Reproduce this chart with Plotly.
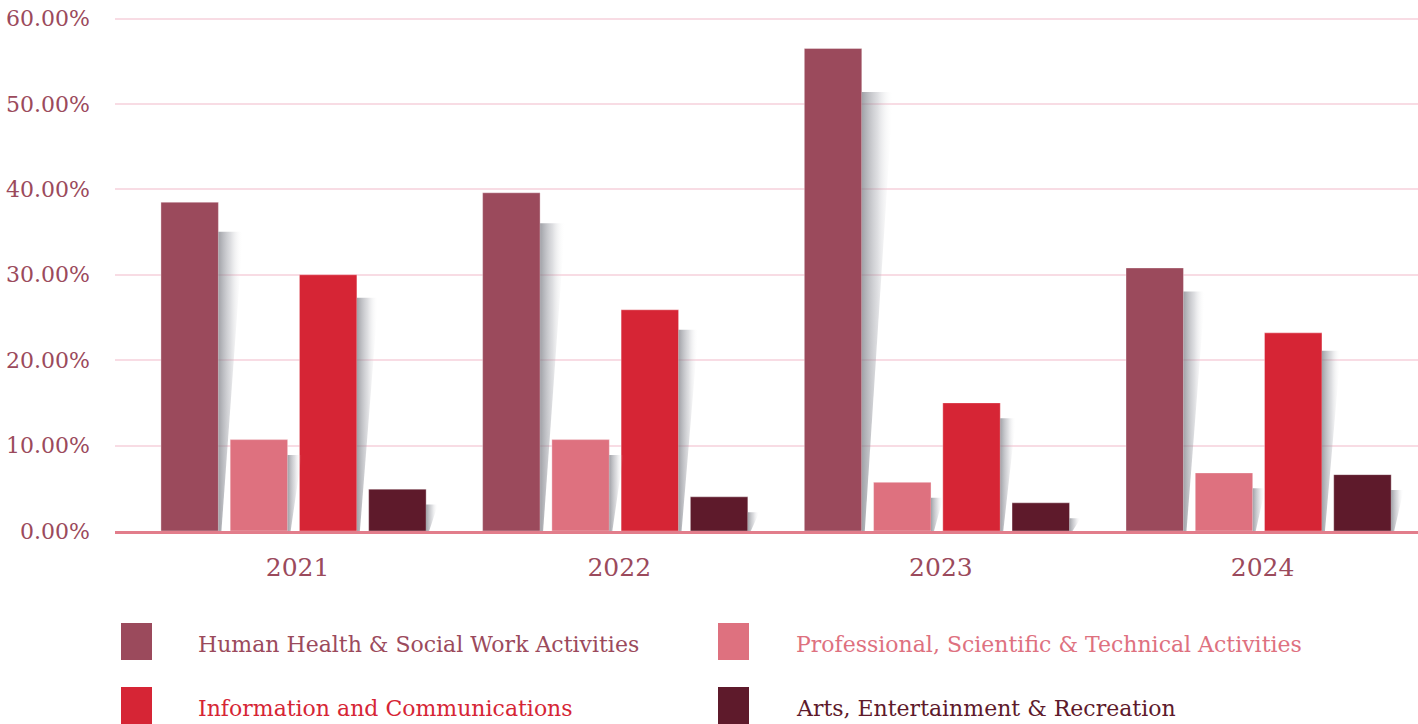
import plotly.graph_objects as go

# ---------------- data ----------------
years = ["2021", "2022", "2023", "2024"]
series_names = [
    "Human Health & Social Work Activities",
    "Professional, Scientific & Technical Activities",
    "Information and Communications",
    "Arts, Entertainment & Recreation",
]
human_health = [38.5, 39.6, 56.5, 30.8]
professional = [10.7, 10.7, 5.7, 6.8]
info_comm = [30.0, 25.9, 15.0, 23.2]
arts = [4.9, 4.0, 3.3, 6.6]
y_ticks = [0, 10, 20, 30, 40, 50, 60]
y_tick_labels = [f"{v:.2f}%" for v in y_ticks]

series_values = [human_health, professional, info_comm, arts]
colors = ["#9B4A5C", "#DE717F", "#D62535", "#5E1A2B"]
text_color = "#9B4A5C"
FONT = "DejaVu Serif"

# ---------------- geometry ----------------
W, H = 1418, 724
ML, MR, MT, MB = 115, 0, 16, 193
x_range = [-0.555, 3.4955]
y_range = [0, 60.3]
bargap = 0.139
bargroupgap = 0.17
plot_w = W - ML - MR
plot_h = H - MT - MB
unit_px = plot_w / (x_range[1] - x_range[0])

slot = (1 - bargap) / len(series_values)
barw = slot * (1 - bargroupgap)

fig = go.Figure()

# soft drop shadows to the right of each bar
for i, vals in enumerate(series_values):
    for j, v in enumerate(vals):
        x_left = j - (1 - bargap) / 2 + slot * i + slot * bargroupgap / 2
        xr = x_left + barw
        top = v - max(1.8, 0.09 * v)
        sw = (10 + 0.38 * v) / unit_px
        fig.add_trace(go.Scatter(
            x=[xr, xr + sw, xr + 3 / unit_px, xr, xr],
            y=[top, top, 0, 0, top],
            mode="lines", line=dict(width=0), fill="toself",
            fillgradient=dict(type="horizontal",
                              colorscale=[[0, "rgba(120,122,130,0.70)"],
                                          [0.5, "rgba(160,162,170,0.35)"],
                                          [1, "rgba(255,255,255,0)"]]),
            hoverinfo="skip", showlegend=False,
        ))

for name, vals, c in zip(series_names, series_values, colors):
    fig.add_trace(go.Bar(
        x=list(range(len(years))), y=vals, name=name,
        marker=dict(color=c, line=dict(color="rgba(255,255,255,0.35)", width=1)),
        showlegend=False,
        hovertemplate="%{y:.2f}%<extra>" + name + "</extra>",
    ))

# ---------------- custom legend ----------------
def px_x(p):
    return (p - ML) / plot_w

def px_y(p):
    return (H - MB - p) / plot_h

legend_items = [
    (0, 121, 623, 196),
    (1, 718, 623, 794),
    (2, 121, 687, 196),
    (3, 718, 687, 794),
]
shapes = []
annotations = []
for idx, sx, sy, tx in legend_items:
    shapes.append(dict(type="rect", xref="paper", yref="paper",
                       x0=px_x(sx), x1=px_x(sx + 31),
                       y0=px_y(sy + 37), y1=px_y(sy),
                       fillcolor=colors[idx], line=dict(width=0)))
    annotations.append(dict(xref="paper", yref="paper",
                            x=px_x(tx), y=px_y(sy + 21),
                            xanchor="left", yanchor="middle",
                            text=series_names[idx], showarrow=False,
                            font=dict(family=FONT, size=22, color=colors[idx])))

fig.update_layout(
    width=W, height=H,
    margin=dict(l=ML, r=MR, t=MT, b=MB),
    paper_bgcolor="white", plot_bgcolor="white",
    barmode="group", bargap=bargap, bargroupgap=bargroupgap,
    showlegend=False,
    shapes=shapes, annotations=annotations,
    font=dict(family=FONT, color=text_color),
)
fig.update_xaxes(
    range=x_range, tickmode="array", tickvals=list(range(len(years))),
    ticktext=years, showgrid=False, zeroline=False,
    showline=True, linecolor="#E27D8B", linewidth=3,
    ticks="", tickfont=dict(family=FONT, size=25, color=text_color),
    ticklabelstandoff=12, ticklabelshift=4,
)
fig.update_yaxes(
    range=y_range, tickmode="array", tickvals=y_ticks, ticktext=y_tick_labels,
    showgrid=True, gridcolor="#F8DCE4", gridwidth=2, zeroline=False, showline=False,
    ticks="", tickfont=dict(family=FONT, size=22, color=text_color),
    ticklabelstandoff=24,
)

fig.write_html("out.html")
